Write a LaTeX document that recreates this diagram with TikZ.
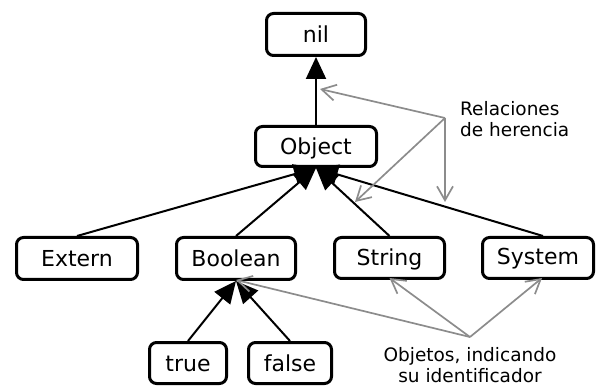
\documentclass[tikz,border=0pt]{standalone}
\usepackage{fontspec}
\setmainfont{DejaVu Sans}
\usetikzlibrary{arrows.meta,backgrounds}
\definecolor{annot}{RGB}{140,140,140}
\begin{document}
\begin{tikzpicture}[x=1pt,y=-1pt,
  box/.style={draw, line width=3pt, rounded corners=7pt, inner sep=0pt,
    text height=16pt, text depth=0pt, font=\fontsize{22}{26}\selectfont},
  inh/.style={line width=2pt, -{Triangle[length=22pt,width=20pt]}},
  note/.style={draw=annot, line width=1.7pt, -{Straight Barb[length=14pt,width=16pt]}},
  notetext/.style={font=\fontsize{18.5}{21}\selectfont, inner sep=0pt}]
\useasboundingbox (0,0) rectangle (597,387);
% boxes
\node[box, minimum width=99pt, minimum height=42pt] (nil) at (316,34.5) {nil};
\node[box, minimum width=121pt, minimum height=40pt] (Object) at (316,146.5) {Object};
\node[box, minimum width=121pt, minimum height=42pt] (Extern) at (77,258.5) {Extern};
\node[box, minimum width=119pt, minimum height=42pt] (Boolean) at (236,258.5) {Boolean};
\node[box, minimum width=110pt, minimum height=41pt] (String) at (389.5,258) {String};
\node[box, minimum width=111pt, minimum height=41pt, text height=13pt] (System) at (538,258) {System};
\node[box, minimum width=77pt, minimum height=41pt] (true) at (188,363) {true};
\node[box, minimum width=83pt, minimum height=41pt] (false) at (290,363) {false};
% inheritance edges
\begin{scope}[on background layer]
\draw[inh] (Object.north) -- (nil.south);
\draw[inh] (Extern.north) -- (Object.south);
\draw[inh] (Boolean.north) -- (Object.south);
\draw[inh] (String.north) -- (Object.south);
\draw[inh] ([xshift=5pt]System.north) -- (Object.south);
\draw[inh] (true.north) -- (Boolean.south);
\draw[inh] (false.north) -- (Boolean.south);
\end{scope}
% annotations
\node[notetext, anchor=north west, align=left] (rel) at (460,101) {Relaciones\\de herencia};
\node[notetext, anchor=north, align=center] (obj) at (470,347) {Objetos, indicando\\su identificador};
\coordinate (hv) at (445,118);
\coordinate (h1) at (320,89);
\coordinate (h2) at (355,202);
\coordinate (h3) at (445,202);
\coordinate (ov) at (470,337);
\draw[note] (hv) -- (h1);
\draw[note] (hv) -- (h2);
\draw[note] (hv) -- (h3);
\draw[note] (ov) -- ([yshift=1pt]Boolean.south);
\draw[note] (ov) -- ([yshift=2pt]String.south);
\draw[note] (ov) -- ([xshift=4pt,yshift=2pt]System.south);
\end{tikzpicture}
\end{document}
